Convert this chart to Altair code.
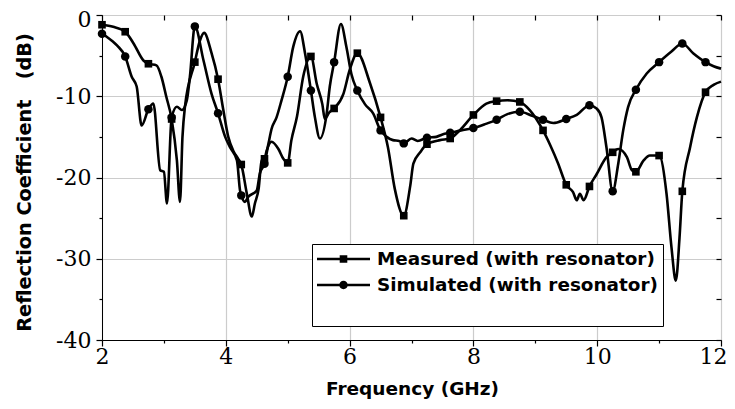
import altair as alt
import pandas as pd

# ---------------- data ----------------
# marker positions (GHz), shared by both series
marker_f = [2.0, 2.375, 2.75, 3.125, 3.5, 3.875, 4.25, 4.625, 5.0, 5.375, 5.75,
            6.125, 6.5, 6.875, 7.25, 7.625, 8.0, 8.375, 8.75, 9.125, 9.5, 9.875,
            10.25, 10.625, 11.0, 11.375, 11.75]
meas_marker_db = [-1.2, -2.06, -6.0, -12.8, -5.8, -7.9, -18.4, -17.7, -18.2, -5.1, -11.5,
                  -4.7, -12.6, -24.7, -15.9, -15.2, -12.3, -10.6, -10.7, -14.2, -20.9, -21.1,
                  -16.9, -19.3, -17.3, -21.7, -9.5]
sim_marker_db = [-2.3, -5.1, -11.6, -12.6, -1.4, -12.1, -22.2, -18.3, -7.6, -9.3, -5.8,
                 -9.3, -14.2, -15.8, -15.1, -14.5, -13.9, -12.9, -11.9, -12.9, -12.8, -11.1,
                 -21.7, -9.2, -5.8, -3.5, -5.8]

# additional curve points between markers
meas_f = [2.18, 2.51, 2.67, 2.88, 2.96, 3.04, 3.21, 3.26, 3.30, 3.34, 3.58, 3.65, 3.77,
          3.96, 4.04, 4.12, 4.2, 4.34, 4.42, 4.47, 4.53, 4.58, 4.66, 4.74, 4.85, 4.93,
          5.06, 5.15, 5.25, 5.47, 5.56, 5.6, 5.67, 5.9, 6.0, 6.33, 6.62, 6.73, 6.98, 7.03,
          7.14, 7.46, 7.78, 8.21, 8.55, 8.91, 9.24, 9.37, 9.61, 9.67, 9.72, 9.78, 9.99,
          10.15, 10.34, 10.48, 10.56, 10.75, 10.85, 11.12, 11.2, 11.27, 11.33, 11.5, 11.61,
          11.88, 12.0]
meas_db = [-1.45, -3.5, -5.6, -6.2, -7.6, -10.1, -17.9, -23.0, -15.0, -11.3, -3.2, -2.2, -4.7,
           -11.7, -15.0, -16.7, -17.7, -22.0, -24.8, -23.2, -21.4, -17.9, -16.7, -15.6, -16.5, -17.7,
           -15.4, -12.5, -7.6, -8.5, -11.0, -12.8, -12.0, -9.7, -6.8, -8.4, -16.3, -21.4, -21.0, -18.3,
           -16.9, -15.4, -14.2, -10.9, -10.5, -11.7, -16.0, -18.3, -21.8, -22.8, -22.0, -22.8, -19.6,
           -17.5, -16.5, -17.5, -19.1, -17.9, -17.3, -22.0, -28.6, -32.7, -27.4, -16.3, -12.6,
           -8.6, -8.2]

sim_f = [2.08, 2.18, 2.25, 2.48, 2.56, 2.64, 2.83, 2.94, 3.0, 3.05, 3.21, 3.29, 3.37, 3.42,
         3.64, 3.77, 3.99, 4.07, 4.18, 4.23, 4.31, 4.36, 4.5, 4.55, 4.69, 4.74, 4.82, 4.9,
         5.09, 5.2, 5.28, 5.44, 5.52, 5.63, 5.68, 5.86, 5.95, 6.03, 6.25, 6.38, 6.6, 6.7,
         6.8, 7.0, 7.1, 7.4, 7.5, 7.8, 8.2, 8.55, 8.95, 9.29, 9.67, 9.99, 10.07, 10.15,
         10.34, 10.42, 10.5, 10.8, 11.2, 11.55, 11.88, 12.0]
sim_db = [-2.7, -3.3, -3.8, -7.6, -8.8, -13.6, -10.9, -19.1, -19.3, -23.2, -11.3, -11.7, -10.5, -7.6,
          -5.6, -9.7, -15.0, -16.3, -17.9, -21.6, -23.0, -22.4, -21.6, -19.5, -15.8, -14.0, -12.6, -10.5,
          -3.9, -2.0, -4.7, -12.6, -15.2, -12.1, -8.8, -1.1, -4.0, -7.3, -11.0, -12.1, -15.0, -15.4,
          -15.5, -15.2, -15.5, -15.0, -14.7, -14.2, -13.4, -12.2, -12.4, -13.3, -12.3, -11.5, -12.6, -16.3,
          -18.3, -14.2, -11.3, -7.2, -4.5, -4.7, -6.3, -6.6]

series_names = ["Measured (with resonator)", "Simulated (with resonator)"]
legend_blank = " "  # empty bottom row of the legend box

x_ticks = list(range(2, 13))
y_ticks = list(range(-40, 1, 5))

# ---------------- tables ----------------
meas_curve = pd.DataFrame({"f": meas_f + marker_f, "db": meas_db + meas_marker_db}).sort_values("f")
sim_curve = pd.DataFrame({"f": sim_f + marker_f, "db": sim_db + sim_marker_db}).sort_values("f")
meas_pts = pd.DataFrame({"f": marker_f, "db": meas_marker_db})
sim_pts = pd.DataFrame({"f": marker_f, "db": sim_marker_db})
legend_df = pd.DataFrame({"f": marker_f[:2], "db": meas_marker_db[:2], "series": series_names})

SERIF = "DejaVu Serif"
SANS = "DejaVu Sans"

xscale = alt.Scale(domain=[2, 12], nice=False, zero=False)
yscale = alt.Scale(domain=[-40, 0], nice=False, zero=False)

x_axis = alt.Axis(
    values=x_ticks,
    labelExpr="datum.value % 2 == 0 ? '' + datum.value : ''",
    tickSize={"condition": {"test": "datum.value % 2 == 0", "value": 6}, "value": 3},
    gridOpacity={"condition": {"test": "datum.value % 2 == 0", "value": 1}, "value": 0},
    labelOffset={"condition": {"test": "datum.value == 12", "value": -8}, "value": 0},
    grid=True, gridColor="#cccccc", gridWidth=1.2,
    domainColor="black", tickColor="black", tickWidth=1.2,
    labelFont=SERIF, labelFontSize=22, labelColor="black", labelPadding=0,
    labelFlush=False,
    title="Frequency (GHz)", titleFont=SANS, titleFontSize=18.5, titleFontWeight="bold",
    titleColor="black", titleX=310, titleY=48, titleBaseline="middle", titleAlign="center",
)
y_axis = alt.Axis(
    values=y_ticks,
    labelExpr="datum.value % 10 == 0 ? '' + datum.value : ''",
    tickSize={"condition": {"test": "datum.value % 10 == 0", "value": 6}, "value": 3},
    gridOpacity={"condition": {"test": "datum.value % 10 == 0", "value": 1}, "value": 0},
    labelOffset={"condition": {"test": "datum.value == 0", "value": 4}, "value": 0},
    grid=True, gridColor="#cccccc", gridWidth=1.2,
    domainColor="black", tickColor="black", tickWidth=1.2,
    labelFont=SERIF, labelFontSize=22, labelColor="black", labelPadding=5,
    labelFlush=False,
    title="Reflection Coefficient\u00a0\u00a0\u00a0(dB)", titleFont=SANS, titleFontSize=19.3,
    titleFontWeight="bold", titleColor="black", titleX=-78, titleY=167,
    titleBaseline="middle", titleAlign="center", titleAngle=-90,
)

X = alt.X("f:Q", scale=xscale, axis=x_axis)
Y = alt.Y("db:Q", scale=yscale, axis=y_axis)

line_m = alt.Chart(meas_curve).mark_line(color="black", strokeWidth=2.6, interpolate="monotone").encode(x=X, y=Y)
line_s = alt.Chart(sim_curve).mark_line(color="black", strokeWidth=2.6, interpolate="monotone").encode(x=X, y=Y)
pts_m = alt.Chart(meas_pts).mark_point(shape="square", filled=True, color="black", size=58, opacity=1).encode(x=X, y=Y)
pts_s = alt.Chart(sim_pts).mark_point(shape="circle", filled=True, color="black", size=72, opacity=1).encode(x=X, y=Y)

sq_sym = ("M-1,-0.12H1.27V0.12H-1Z M2.03,-0.12H4.3V0.12H2.03Z "
          "M1.27,-0.38H2.03V0.38H1.27Z")
ci_sym = ("M-1,-0.12H1.25V0.12H-1Z M2.05,-0.12H4.3V0.12H2.05Z "
          "M2.07,0A0.42,0.42,0,1,1,1.23,0A0.42,0.42,0,1,1,2.07,0Z")
blank_sym = "M0,0Z"

legend_layer = alt.Chart(legend_df).transform_filter("false").mark_point(
    filled=True, color="black", size=400, opacity=1
).encode(
    x=X, y=Y,
    shape=alt.Shape(
        "series:N",
        scale=alt.Scale(domain=series_names + [legend_blank], range=[sq_sym, ci_sym, blank_sym]),
        legend=alt.Legend(
            orient="none", legendX=210, legendY=229, direction="vertical", title=None,
            labelFont=SANS, labelFontSize=18.4, labelFontWeight="bold", labelColor="black",
            labelLimit=500, labelOffset=40,
            symbolSize=400, symbolFillColor="black", symbolStrokeWidth=0,
            symbolOpacity=1, rowPadding=6, padding=5,
            strokeColor="black", fillColor="white", cornerRadius=0,
        ),
    ),
)

main = alt.layer(line_m, line_s, pts_m, pts_s, legend_layer)

# top / right frame ticks pointing inward
frame = alt.Chart(meas_pts).mark_point(opacity=0).encode(
    x=alt.X("f:Q", scale=xscale, axis=alt.Axis(
        orient="top", values=x_ticks, labels=False, domain=False, grid=False,
        tickSize=5, offset=-5, tickColor="black", tickWidth=1.2, title=None)),
    y=alt.Y("db:Q", scale=yscale, axis=alt.Axis(
        orient="right", values=y_ticks, labels=False, domain=False, grid=False,
        tickSize=5, offset=-5, tickColor="black", tickWidth=1.2, title=None)),
)

chart = alt.layer(main, frame).resolve_scale(x="independent", y="independent").properties(
    width=619, height=325,
    autosize=alt.AutoSizeParams(type="none"),
    padding={"left": 94, "top": 7, "right": 5, "bottom": 60},
).configure_view(stroke="black", strokeWidth=1.2).configure(background="white")

chart.save("out.html", embed_options={"renderer": "svg", "actions": False})
